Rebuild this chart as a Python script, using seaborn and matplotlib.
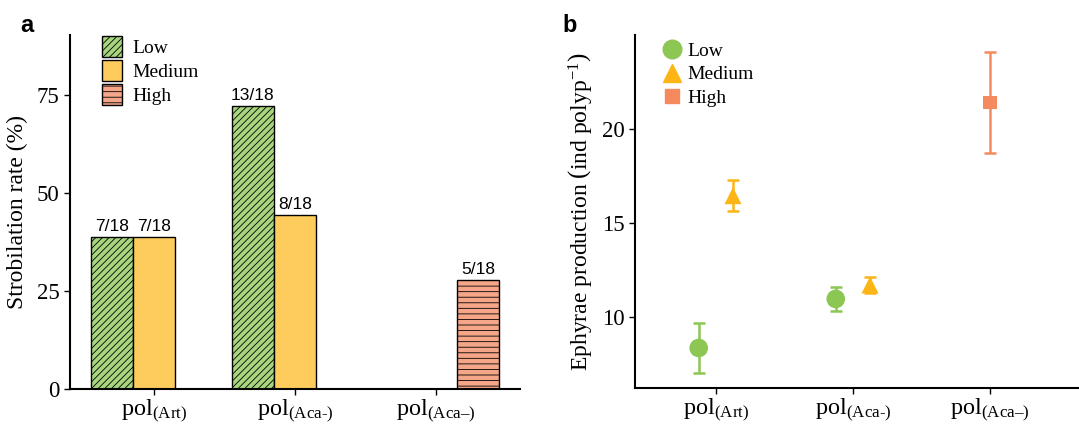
import numpy as np
import pandas as pd
import matplotlib
matplotlib.use("Agg")
import matplotlib.pyplot as plt
from matplotlib.patches import Patch
from matplotlib.lines import Line2D
import seaborn as sns

# ---------------- data ----------------
categories = ["Art", "Aca-", "Aca\u2013"]
tick_labels = [r"pol$_{\text{(Art)}}$", r"pol$_{\text{(Aca-)}}$", "pol$_{\\text{(Aca\u2013)}}$"]
levels = ["Low", "Medium", "High"]

# panel a: strobilation rate (%)
rate_cat = ["Art", "Art", "Aca-", "Aca-", "Aca\u2013"]
rate_level = ["Low", "Medium", "Low", "Medium", "High"]
rate_vals = [38.9, 38.9, 72.2, 44.4, 27.8]
rate_text = ["7/18", "7/18", "13/18", "8/18", "5/18"]

# panel b: ephyrae production (mean +- error)
eph_cat = ["Art", "Art", "Aca-", "Aca-", "Aca\u2013"]
eph_level = ["Low", "Medium", "Low", "Medium", "High"]
eph_mean = [8.35, 16.45, 10.96, 11.70, 21.40]
eph_err = [1.33, 0.82, 0.64, 0.42, 2.70]

# ---------------- style ----------------
sns.set_theme(style="ticks")
plt.rcParams["font.family"] = ["Liberation Serif", "DejaVu Serif"]
plt.rcParams["mathtext.fontset"] = "custom"
plt.rcParams["mathtext.rm"] = "Liberation Serif"
plt.rcParams["mathtext.it"] = "Liberation Serif:italic"
plt.rcParams["mathtext.bf"] = "Liberation Serif:bold"
plt.rcParams["hatch.linewidth"] = 0.6
for k in ["text.color", "axes.labelcolor", "xtick.color", "ytick.color", "axes.edgecolor"]:
    plt.rcParams[k] = "black"

bar_colors = {"Low": "#A8D67E", "Medium": "#FDCC5C", "High": "#F6A688"}
bar_hatch = {"Low": "/////", "Medium": "", "High": "---"}
pt_colors = {"Low": "#8CC653", "Medium": "#FDB515", "High": "#F58A5E"}
pt_markers = {"Low": "o", "Medium": "^", "High": "s"}
pt_sizes = {"Low": 180, "Medium": 150, "High": 95}

fig = plt.figure(figsize=(10.79, 4.25), dpi=100)
W, H = 1079, 425
ax1 = fig.add_axes([70 / W, (H - 389) / H, 450 / W, (389 - 35) / H])
ax2 = fig.add_axes([635 / W, (H - 388) / H, 444 / W, (388 - 35) / H])

# ---------------- panel a ----------------
dfa = pd.DataFrame({"cat": rate_cat, "level": rate_level, "rate": rate_vals, "txt": rate_text})
sns.barplot(data=dfa, x="cat", y="rate", hue="level", order=categories, hue_order=levels,
            palette=bar_colors, width=0.9, edgecolor="black", linewidth=1.0,
            errorbar=None, legend=False, ax=ax1, saturation=1)
for lev, cont in zip(levels, ax1.containers):
    sub = dfa[dfa["level"] == lev]
    for bar in cont:
        bar.set_hatch(bar_hatch[lev])
    ax1.bar_label(cont, labels=list(sub["txt"]), padding=2, fontsize=12.5,
                  family="Liberation Sans")

ax1.set_xlim(-0.6, 2.6)
ax1.set_ylim(0, 90.3)
ax1.set_yticks([0, 25, 50, 75])
ax1.set_xticks(range(len(categories)))
ax1.set_xticklabels(tick_labels, fontsize=17.5)
ax1.set_xlabel("")
ax1.set_ylabel("Strobilation rate (%)", fontsize=17, labelpad=6)
ax1.tick_params(axis="y", labelsize=16.5, length=4, width=1)
ax1.tick_params(axis="x", length=4, width=1, pad=2.5)
sns.despine(ax=ax1)
for s in ["left", "bottom"]:
    ax1.spines[s].set_linewidth(1.5)

handles_a = [Patch(facecolor=bar_colors[l], edgecolor="black", hatch=bar_hatch[l], label=l)
             for l in levels]
ax1.legend(handles=handles_a, loc="upper left", bbox_to_anchor=(0.045, 1.03), frameon=False,
           fontsize=14, handlelength=1.05, handleheight=1.3, handletextpad=0.5,
           labelspacing=0.15, borderaxespad=0.2)

# ---------------- panel b ----------------
dfb = pd.DataFrame({"cat": eph_cat, "level": eph_level, "mean": eph_mean, "err": eph_err})
xpos = []
for c, l in zip(dfb["cat"], dfb["level"]):
    present = [lv for lv in levels if ((dfb["cat"] == c) & (dfb["level"] == lv)).any()]
    offs = np.linspace(-0.125, 0.125, len(present)) if len(present) > 1 else [0.0]
    xpos.append(categories.index(c) + offs[present.index(l)])
dfb["x"] = xpos

for _, r in dfb.iterrows():
    ax2.errorbar(r["x"], r["mean"], yerr=r["err"], fmt="none", ecolor=pt_colors[r["level"]],
                 elinewidth=1.8, capsize=4, capthick=1.8, zorder=2)
sns.scatterplot(data=dfb, x="x", y="mean", hue="level", style="level", size="level",
                hue_order=levels, style_order=levels, size_order=levels,
                palette=pt_colors, markers=pt_markers, sizes=pt_sizes,
                linewidth=0, legend=False, ax=ax2, zorder=3)

ax2.set_xlim(-0.59, 2.65)
ax2.set_ylim(6.22, 25.0)
ax2.set_yticks([10, 15, 20])
ax2.set_xticks(range(len(categories)))
ax2.set_xticklabels(tick_labels, fontsize=17.5)
ax2.set_xlabel("")
ax2.set_ylabel(r"Ephyrae production $\left(\mathrm{ind\ polyp^{-1}}\right)$", fontsize=17,
               labelpad=6)
ax2.tick_params(axis="y", labelsize=16.5, length=4, width=1)
ax2.tick_params(axis="x", length=4, width=1, pad=2.5)
sns.despine(ax=ax2)
for s in ["left", "bottom"]:
    ax2.spines[s].set_linewidth(1.5)

handles_b = [Line2D([], [], linestyle="none", marker=pt_markers[l], color=pt_colors[l],
                    markersize=np.sqrt(pt_sizes[l]), label=l) for l in levels]
ax2.legend(handles=handles_b, loc="upper left", bbox_to_anchor=(0.035, 1.012), frameon=False,
           fontsize=14, handlelength=1.0, handletextpad=0.3, labelspacing=0.3,
           borderaxespad=0.2)

# panel letters
fig.text(20 / W, 1 - 25 / H, "a", fontsize=17, fontweight="bold", family="Liberation Sans",
         va="center", ha="left")
fig.text(562 / W, 1 - 25 / H, "b", fontsize=17, fontweight="bold", family="Liberation Sans",
         va="center", ha="left")

fig.savefig("out.png", dpi=100)
